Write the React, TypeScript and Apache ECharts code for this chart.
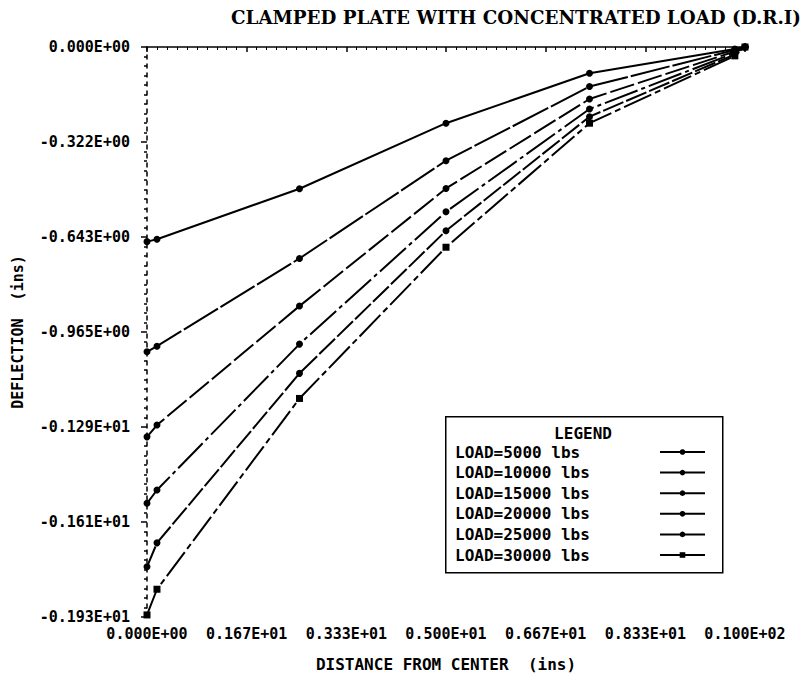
import React, { useEffect, useRef } from "react";
import * as echarts from "echarts";

const xValues = [0, 0.167, 2.55, 5.0, 7.4, 9.83, 10];
const load5000 = [-0.659, -0.651, -0.48, -0.258, -0.089, -0.007, 0];
const load10000 = [-1.032, -1.013, -0.716, -0.385, -0.134, -0.01, 0];
const load15000 = [-1.32, -1.28, -0.877, -0.479, -0.176, -0.015, 0];
const load20000 = [-1.545, -1.5, -1.006, -0.558, -0.21, -0.02, 0];
const load25000 = [-1.76, -1.679, -1.105, -0.622, -0.236, -0.025, 0];
const load30000 = [-1.923, -1.836, -1.19, -0.678, -0.258, -0.03, 0];
const seriesNames = [
  "LOAD=5000 lbs",
  "LOAD=10000 lbs",
  "LOAD=15000 lbs",
  "LOAD=20000 lbs",
  "LOAD=25000 lbs",
  "LOAD=30000 lbs",
];
const xTickLabels = [
  "0.000E+00",
  "0.167E+01",
  "0.333E+01",
  "0.500E+01",
  "0.667E+01",
  "0.833E+01",
  "0.100E+02",
];
const yTickLabels = [
  "0.000E+00",
  "-0.322E+00",
  "-0.643E+00",
  "-0.965E+00",
  "-0.129E+01",
  "-0.161E+01",
  "-0.193E+01",
];

const X_MAX = 10;
const Y_MIN = -1.93;

export default function App() {
  const ref = useRef<HTMLDivElement>(null);
  useEffect(() => {
    if (!ref.current) return;
    const chart = echarts.init(ref.current, null, { renderer: "svg" });
    const allSeries = [load5000, load10000, load15000, load20000, load25000, load30000];
    const dashes: any[] = ["solid", [40, 3], [25, 4], [35, 4, 4, 4], [22, 3], [30, 4, 6, 4]];
    const symbols = ["circle", "circle", "circle", "circle", "circle", "rect"];
    const xInt = X_MAX / 6;
    const yInt = -Y_MIN / 6;
    const mono = "DejaVu Sans Mono";
    const option: any = {
      animation: false,
      backgroundColor: "#ffffff",
      title: {
        text: "CLAMPED PLATE WITH CONCENTRATED LOAD (D.R.I)",
        left: 231,
        top: 8,
        padding: 0,
        textStyle: {
          fontFamily: "DejaVu Serif",
          fontWeight: "bold",
          fontSize: 18.3,
          color: "#000",
        },
      },
      grid: { left: 147, right: 61, top: 47, bottom: 69, containLabel: false },
      xAxis: {
        type: "value",
        min: 0,
        max: X_MAX,
        interval: xInt,
        name: "DISTANCE FROM CENTER  (ins)",
        nameLocation: "middle",
        nameGap: 39,
        nameTextStyle: { fontFamily: mono, fontWeight: "bold", fontSize: 16, color: "#000" },
        splitLine: { show: false },
        axisLine: { show: true, lineStyle: { color: "#000", width: 1.5 } },
        axisTick: { show: true, length: 5, lineStyle: { color: "#000", width: 1.5 } },
        minorTick: { show: true, splitNumber: 10, length: 3, lineStyle: { color: "#000", width: 1 } },
        axisLabel: {
          margin: 9,
          fontFamily: mono,
          fontWeight: "bold",
          fontSize: 15,
          color: "#000",
          formatter: (v: number) => xTickLabels[Math.round(v / xInt)] ?? "",
        },
      },
      yAxis: {
        type: "value",
        min: Y_MIN,
        max: 0,
        interval: yInt,
        name: "DEFLECTION  (ins)",
        nameLocation: "middle",
        nameGap: 122,
        nameTextStyle: { fontFamily: mono, fontWeight: "bold", fontSize: 15, color: "#000" },
        splitLine: { show: false },
        axisLine: { show: true, lineStyle: { color: "#000", width: 1.5, type: [4, 5] } },
        axisTick: { show: true, length: 6, lineStyle: { color: "#000", width: 1.5 } },
        minorTick: { show: true, splitNumber: 10, length: 3, lineStyle: { color: "#000", width: 1.5 } },
        axisLabel: {
          margin: 17,
          fontFamily: mono,
          fontWeight: "bold",
          fontSize: 15,
          color: "#000",
          formatter: (v: number) => yTickLabels[Math.round(-v / yInt)] ?? "",
        },
      },
      legend: {
        orient: "vertical",
        left: 455,
        top: 444,
        padding: 0,
        align: "right",
        itemWidth: 45,
        itemHeight: 7,
        itemGap: 4.6,
        data: seriesNames,
        lineStyle: { type: "solid", width: 2, color: "#000" },
        formatter: (name: string) => `{a|${name}}`,
        textStyle: {
          fontFamily: mono,
          fontWeight: "bold",
          fontSize: 16,
          color: "#000",
          rich: {
            a: {
              width: 200,
              align: "left",
              lineHeight: 14,
              fontFamily: mono,
              fontWeight: "bold",
              fontSize: 16,
              color: "#000",
            },
          },
        },
      },
      graphic: [
        {
          type: "rect",
          left: 445,
          top: 416,
          shape: { width: 277, height: 156 },
          style: { fill: "#fff", stroke: "#000", lineWidth: 1.5 },
          z: 1,
        },
        {
          type: "text",
          x: 583,
          y: 433,
          style: {
            text: "LEGEND",
            fontFamily: mono,
            fontWeight: "bold",
            fontSize: 16,
            fill: "#000",
            align: "center",
            verticalAlign: "middle",
          },
          z: 2,
        },
      ],
      series: allSeries.map((vals, i) => ({
        name: seriesNames[i],
        type: "line",
        data: vals.map((y, j) => [xValues[j], y]),
        symbol: symbols[i],
        symbolSize: 7,
        showSymbol: true,
        itemStyle: { color: "#000" },
        lineStyle: { color: "#000", width: 2, type: dashes[i] },
        z: 3,
      })),
    };
    chart.setOption(option);
    return () => chart.dispose();
  }, []);
  return (
    <div
      ref={ref}
      style={{ position: "absolute", left: 0, top: 0, width: 806, height: 686 }}
    />
  );
}
